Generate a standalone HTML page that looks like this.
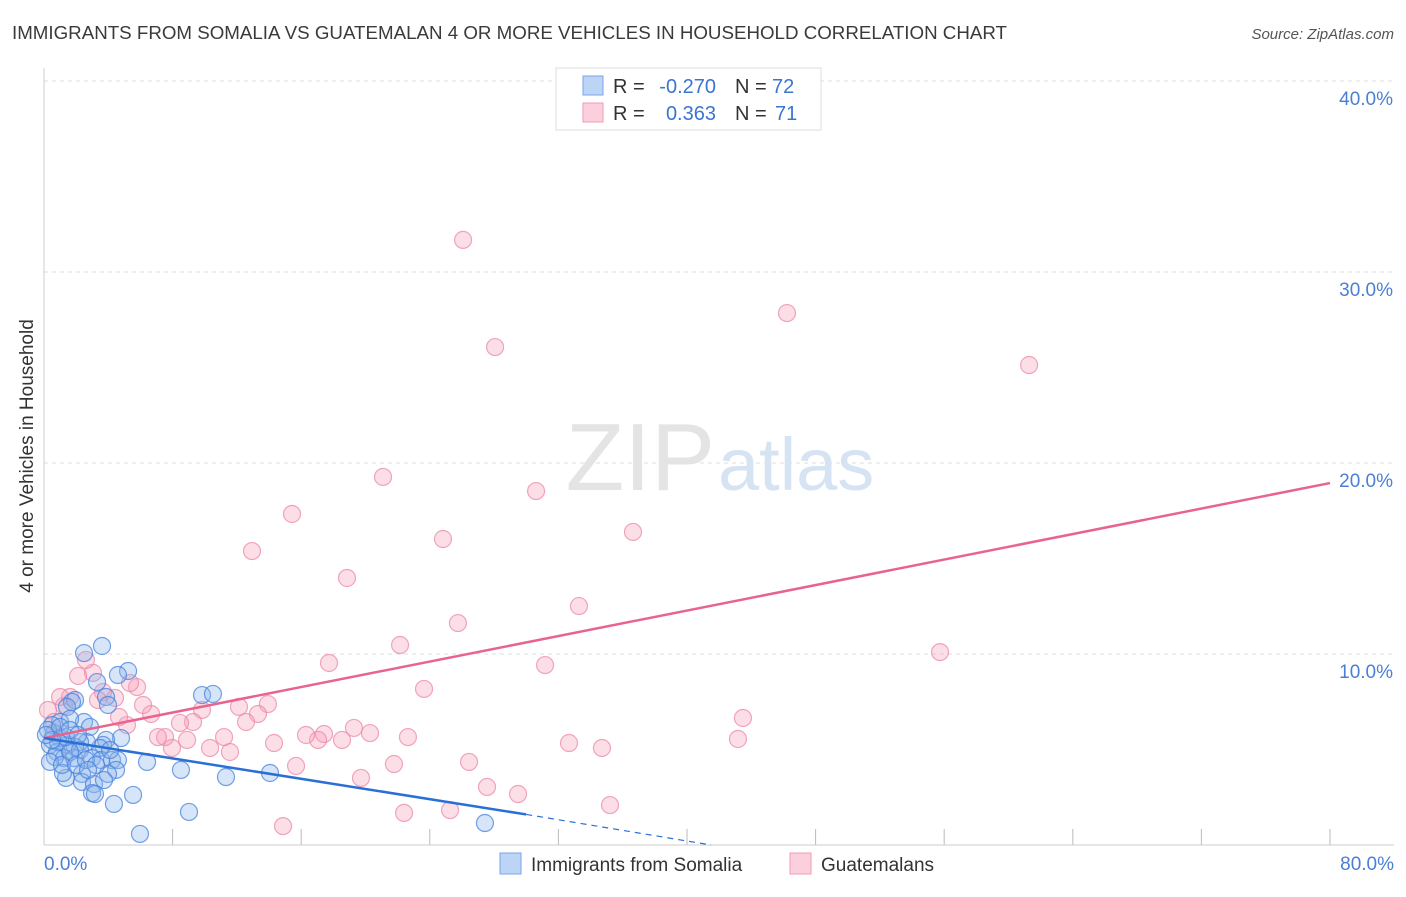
<!DOCTYPE html>
<html><head><meta charset="utf-8"><style>
body{margin:0;background:#fff;font-family:"Liberation Sans",sans-serif;}
svg text{font-family:"Liberation Sans",sans-serif;}
</style></head><body>
<svg width="1406" height="892" viewBox="0 0 1406 892" xmlns="http://www.w3.org/2000/svg">
<text x="12" y="39" font-size="18" fill="#3a3a3a" textLength="995" lengthAdjust="spacingAndGlyphs">IMMIGRANTS FROM SOMALIA VS GUATEMALAN 4 OR MORE VEHICLES IN HOUSEHOLD CORRELATION CHART</text>
<text x="1394" y="39" font-size="15" fill="#555" text-anchor="end" font-style="italic">Source: ZipAtlas.com</text>
<g id="grid"></g>
<text x="715" y="490" font-size="96" fill="#e4e4e4" text-anchor="end" font-family="Liberation Serif">ZIP</text>
<text x="718" y="490" font-size="74" fill="#d6e3f3">atlas</text>
<line x1="44" y1="68" x2="44" y2="845" stroke="#ccc"/>
<line x1="44" y1="845" x2="1394" y2="845" stroke="#ccc"/>
<g id="ylabels"></g>
<g id="pts"></g>
<g id="lines"></g>
<text x="33" y="456" font-size="19" fill="#333" text-anchor="middle" transform="rotate(-90 33 456)">4 or more Vehicles in Household</text>
<text x="44" y="870" font-size="19" fill="#4a7fd4">0.0%</text>
<text x="1394" y="870" font-size="19" fill="#4a7fd4" text-anchor="end">80.0%</text>
<g>
<rect x="556" y="68" width="265" height="62" fill="#fff" stroke="#ddd"/>
<rect x="583" y="76" width="20" height="19" fill="#bcd4f5" stroke="#7aa5e8"/>
<rect x="583" y="103" width="20" height="19" fill="#fbd0dc" stroke="#f09ab4"/>
<text x="613" y="93" font-size="20" fill="#333">R =</text>
<text x="716" y="93" font-size="20" fill="#3b74d1" text-anchor="end">-0.270</text>
<text x="735" y="93" font-size="20" fill="#333">N =</text>
<text x="772" y="93" font-size="20" fill="#3b74d1">72</text>
<text x="613" y="120" font-size="20" fill="#333">R =</text>
<text x="716" y="120" font-size="20" fill="#3b74d1" text-anchor="end">0.363</text>
<text x="735" y="120" font-size="20" fill="#333">N =</text>
<text x="775" y="120" font-size="20" fill="#3b74d1">71</text>
</g>
<g><rect x="500" y="853" width="21" height="21" fill="#bcd4f5" stroke="#7aa5e8"/><text x="531" y="871" font-size="19" fill="#333">Immigrants from Somalia</text></g>
<g><rect x="790" y="853" width="21" height="21" fill="#fbd0dc" stroke="#f09ab4"/><text x="821" y="871" font-size="19" fill="#333">Guatemalans</text></g>
</svg>
<script>
const yTicks=[10,20,30,40];
const xTicks=[0,8,16,24,32,40,48,56,64,72,80];
const pinkPx=[[463,240],[495,347],[787,313],[1029,365],[383,477],[536,491],[292,514],[443,539],[633,532],[252,551],[347,578],[579,606],[458,623],[400,645],[329,663],[545,665],[940,652],[424,689],[743,718],[738,739],[569,743],[602,748],[469,762],[487,787],[518,794],[610,805],[404,813],[450,810],[283,826],[361,778],[394,764],[296,766],[408,737],[370,733],[354,728],[342,740],[324,734],[318,740],[306,735],[274,743],[268,704],[258,714],[246,722],[239,707],[230,752],[224,737],[210,748],[202,710],[193,722],[180,723],[187,740],[172,748],[165,737],[158,737],[151,714],[143,705],[137,687],[127,725],[119,717],[115,698],[103,692],[98,700],[93,673],[86,660],[78,676],[70,697],[64,706],[60,697],[48,710],[54,722],[130,683]];
const bluePx=[[102,646],[84,653],[128,671],[118,675],[97,682],[75,700],[72,702],[106,697],[108,705],[202,695],[213,694],[67,707],[84,722],[60,722],[70,719],[90,727],[121,738],[106,740],[103,745],[100,748],[87,742],[80,742],[75,747],[68,745],[60,738],[54,733],[50,745],[57,752],[64,758],[74,758],[80,750],[92,758],[101,760],[112,760],[118,760],[147,762],[181,770],[226,777],[270,773],[116,770],[108,774],[82,774],[66,778],[63,773],[82,782],[94,784],[104,780],[92,793],[95,794],[133,795],[114,804],[189,812],[140,834],[485,823],[52,725],[48,730],[58,742],[70,752],[55,757],[50,762],[62,765],[76,765],[86,760],[66,737],[60,727],[52,740],[46,735],[70,730],[78,735],[96,765],[110,750],[88,770]];
const pinkX=pinkPx.map(p=>+((p[0]-44)/16.075).toFixed(2));
const pinkY=pinkPx.map(p=>+((845-p[1])/19.1).toFixed(2));
const blueX=bluePx.map(p=>+((p[0]-44)/16.075).toFixed(2));
const blueY=bluePx.map(p=>+((845-p[1])/19.1).toFixed(2));
const pinkLine=[[0,5.6],[80,18.95]];
const blueLine=[[0,5.6],[30,1.6]];
const blueDash=[[30,1.6],[41.5,0]];
const sx=v=>44+v*16.075, sy=v=>845-v*19.1;
const NS="http://www.w3.org/2000/svg";
function mk(t,a,p){const e=document.createElementNS(NS,t);for(const k in a)e.setAttribute(k,a[k]);p.appendChild(e);return e;}
const grid=document.getElementById('grid'),yl=document.getElementById('ylabels');
yTicks.forEach(v=>{const l=mk('line',{x1:44,x2:1394,y1:sy(v),y2:sy(v),stroke:'#ddd','stroke-dasharray':'4,4'},grid);


const t=mk('text',{x:1393,y:sy(v)+24,'font-size':19,fill:'#4a7fd4','text-anchor':'end'},yl);t.textContent=v.toFixed(1)+'%';

});
xTicks.forEach(v=>{const l=mk('line',{x1:sx(v),x2:sx(v),y1:829,y2:845,stroke:'#bbb'},grid);

});
const pts=document.getElementById('pts');
pinkX.forEach((x,i)=>{const c=mk('circle',{cx:sx(x),cy:sy(pinkY[i]),r:8.5,fill:'rgba(245,160,185,0.35)',stroke:'rgba(235,130,165,0.7)','stroke-width':1.2},pts);

});
blueX.forEach((x,i)=>{const c=mk('circle',{cx:sx(x),cy:sy(blueY[i]),r:8.5,fill:'rgba(140,180,235,0.35)',stroke:'rgba(70,130,220,0.75)','stroke-width':1.2},pts);

});
const ln=document.getElementById('lines');
let a=mk('line',{x1:sx(pinkLine[0][0]),y1:sy(pinkLine[0][1]),x2:sx(pinkLine[1][0]),y2:sy(pinkLine[1][1]),stroke:'#e8648f','stroke-width':2.5},ln);


let b=mk('line',{x1:sx(blueLine[0][0]),y1:sy(blueLine[0][1]),x2:sx(blueLine[1][0]),y2:sy(blueLine[1][1]),stroke:'#2a6fd6','stroke-width':2.5},ln);


let d=mk('line',{x1:sx(blueDash[0][0]),y1:sy(blueDash[0][1]),x2:sx(blueDash[1][0]),y2:sy(blueDash[1][1]),stroke:'#2a6fd6','stroke-width':1.2,'stroke-dasharray':'6,5'},ln);


</script>
</body></html>
